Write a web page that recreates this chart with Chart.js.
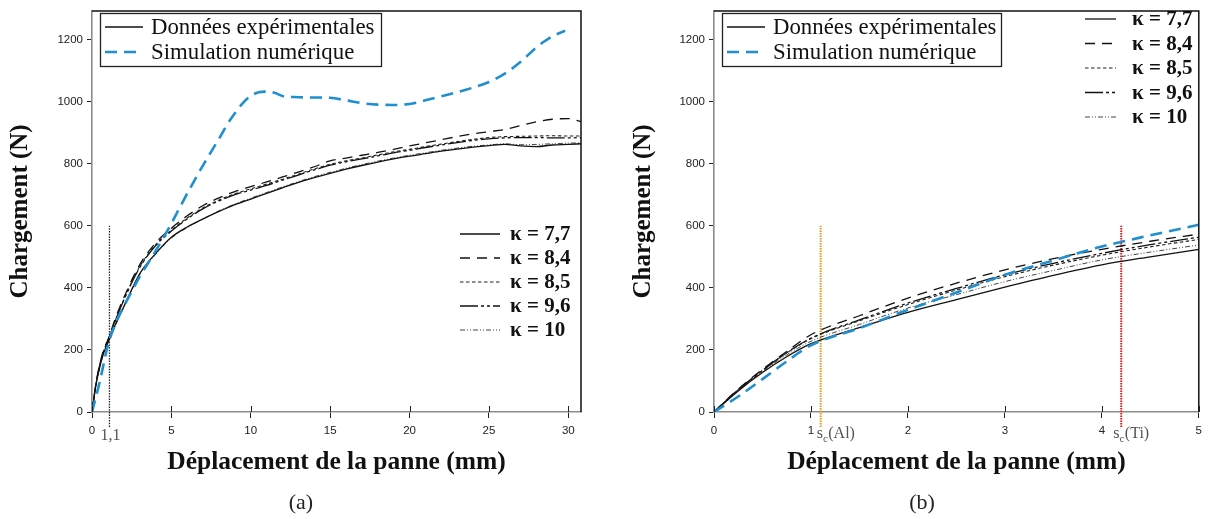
<!DOCTYPE html>
<html><head><meta charset="utf-8">
<script src="https://cdn.jsdelivr.net/npm/chart.js@4.4.1/dist/chart.umd.min.js"></script>
<style>
html,body{margin:0;padding:0;background:#fff;}
body{width:1208px;height:519px;overflow:hidden;position:relative;}
.wrap{position:absolute;top:0;width:604px;height:519px;}
.cap{position:absolute;top:489px;width:60px;text-align:center;font:22px "Liberation Serif",serif;color:#222;}
</style></head>
<body>
<div class="wrap" style="left:0"><canvas id="ca" width="604" height="519"></canvas></div>
<div class="wrap" style="left:604px"><canvas id="cb" width="604" height="519"></canvas></div>
<div class="cap" style="left:271px">(a)</div>
<div class="cap" style="left:892px">(b)</div>
<script>
// ---------- data ----------
const yTicks = [0, 200, 400, 600, 800, 1000, 1200];
const xTicksA = [0, 5, 10, 15, 20, 25, 30];
const xTicksB = [0, 1, 2, 3, 4, 5];
const kappas = ['7,7', '8,4', '8,5', '9,6', '10'];
const legendLabels = ['Données expérimentales', 'Simulation numérique'];

// (a) experimental curves
const xExpA = [0,0.25,0.5,0.75,1,1.5,2,3,4,5,6,7,8,9,10,11,12,13,14,15,16,17,18,19,20,21,22,23,24,25,26,27,28,29,30,30.8];
const k77A = [0,88,148,192,222,285,339,445,510,563,596,622,646,668,686,704,722,740,755,769,782,794,805,815,824,832,840,847,853,858,862,857,855,860,862,864];
const k84A = [0,92,157,203,233,305,368,474,544,592,632,665,690,710,726,741,757,773,790,809,818,827,836,846,857,867,877,887,896,903,910,923,935,943,945,935];
const k85A = [0,90,154,199,229,300,362,468,538,586,625,658,683,703,719,734,750,766,783,798,809,818,828,838,846,855,863,871,878,884,887,888,889,890,889,889];
const k96A = [0,90,153,198,228,298,360,465,535,583,622,655,680,700,715,730,747,763,780,795,806,815,825,835,843,852,860,868,875,880,883,884,884,883,883,884];
const k10A = [0,86,146,190,220,282,336,442,507,560,594,622,648,670,689,707,725,742,758,772,785,797,808,818,827,835,843,850,856,860,864,861,862,864,866,867];
// (a) simulation
const xSimA = [0,0.5,1,1.5,2,3,4,5,5.5,6,6.5,7,7.5,8,8.5,9,9.5,10,10.5,11,11.5,12,13,14,15,16,17,18,19,20,21,22,23,24,25,26,27,28,29,29.8];
const simA = [0,100,215,287,340,435,518,607,656,704,750,795,838,880,925,962,995,1018,1030,1032,1028,1018,1014,1013,1012,1004,995,990,989,992,1004,1017,1030,1045,1063,1090,1128,1175,1210,1228];

// (b)
const xB = [0,0.25,0.5,0.75,1,1.5,2,2.5,3,3.5,4,4.5,5];
const simB = [0,50,106,163,215,270,329,385,442,488,533,569,603];
const k77B = [0,68,127,178,220,272,321,362,402,440,474,500,524];
const k84B = [0,74,137,195,249,310,367,415,458,494,524,550,573];
const k85B = [0,72,134,190,236,294,346,393,436,473,505,532,556];
const k96B = [0,72,134,191,238,297,351,398,442,479,511,539,563];
const k10B = [0,70,130,184,228,282,335,378,420,456,490,515,538];

// vertical markers
const markerA = [1.1];
const markerLabelA = ['1,1'];
const markersB = [1.1, 4.2];
const markerLabelsB = ['Al', 'Ti'];
const markerRange = [-48, 600];

// ---------- helpers ----------
const pts = (xs, ys) => xs.map((x, i) => ({x, y: ys[i]}));
const SERIF = '"Liberation Serif", "DejaVu Serif", serif';
const SANS = '"Liberation Sans", Arial, sans-serif';

const styles = [
  {borderColor:'#111', borderWidth:1.3, borderDash:[]},
  {borderColor:'#111', borderWidth:1.3, borderDash:[10,7]},
  {borderColor:'#222', borderWidth:1.1, borderDash:[3.5,2.5]},
  {borderColor:'#111', borderWidth:1.3, borderDash:[18,3,3,3,3,3]},
  {borderColor:'#444', borderWidth:1.0, borderDash:[5,2,1,2,1,2]}
];
const simStyle = {borderColor:'#1f8fcf', borderWidth:2.6, borderDash:[12,7]};
const expStyle = {borderColor:'#111', borderWidth:1.3, borderDash:[]};

function lineDs(label, data, st, extra) {
  return Object.assign({label, data, borderColor: st.borderColor, borderWidth: st.borderWidth,
    borderDash: st.borderDash, pointRadius: 0, fill: false, cubicInterpolationMode: 'monotone'}, extra || {});
}

function sample(ctx, st, x0, x1, y) {
  ctx.save(); ctx.beginPath(); ctx.strokeStyle = st.borderColor; ctx.lineWidth = st.borderWidth;
  ctx.setLineDash(st.borderDash || []); ctx.moveTo(x0, y); ctx.lineTo(x1, y); ctx.stroke(); ctx.restore();
}

const decoPlugin = {
  id: 'deco',
  afterDraw(chart, args, o) {
    const ctx = chart.ctx, a = chart.chartArea, xs = chart.scales.x;
    ctx.save();
    // top & right frame
    ctx.strokeStyle = '#111'; ctx.lineWidth = 1.5; ctx.setLineDash([]);
    ctx.beginPath(); ctx.moveTo(a.left, a.top); ctx.lineTo(a.right, a.top); ctx.lineTo(a.right, a.bottom); ctx.stroke();
    // upward part of x ticks
    ctx.strokeStyle = '#222'; ctx.lineWidth = 1;
    xs.ticks.forEach(t => { const px = Math.round(xs.getPixelForValue(t.value)) + 0.5;
      ctx.beginPath(); ctx.moveTo(px, a.bottom); ctx.lineTo(px, a.bottom - 6); ctx.stroke(); });
    // legend box
    const b = o.box;
    ctx.fillStyle = '#fff'; ctx.fillRect(b.x, b.y, b.w, b.h);
    ctx.strokeStyle = '#222'; ctx.lineWidth = 1.3; ctx.strokeRect(b.x + 0.5, b.y + 0.5, b.w, b.h);
    ctx.font = '22.8px ' + SERIF; ctx.fillStyle = '#111'; ctx.textBaseline = 'middle'; ctx.textAlign = 'left';
    [expStyle, simStyle].forEach((st, i) => {
      const y = b.y + 14 + i * 25;
      sample(ctx, st, b.x + 5, b.x + 43, y);
      ctx.fillText(legendLabels[i], b.x + 51, y + 1);
    });
    // kappa legend
    const k = o.kappa;
    ctx.font = 'bold 21px ' + SERIF;
    kappas.forEach((kv, i) => {
      const y = k.y0 + i * k.dy;
      sample(ctx, styles[i], k.s0, k.s1, y);
      ctx.fillText('κ = ' + kv, k.tx, y + 1);
    });
    // marker labels
    ctx.fillStyle = '#555'; ctx.textBaseline = 'middle';
    o.markers.forEach((m, i) => {
      const px = xs.getPixelForValue(m);
      const lab = o.mlabels[i];
      if (o.sc) {
        let x = px - o.sc[i];
        ctx.font = '16px ' + SERIF; ctx.textAlign = 'left';
        ctx.fillText('s', x, 434); x += ctx.measureText('s').width;
        ctx.font = '11px ' + SERIF; ctx.fillText('c', x, 439); x += ctx.measureText('c').width + 0.5;
        ctx.font = '16px ' + SERIF; ctx.fillText('(' + lab + ')', x, 434);
      } else {
        ctx.font = '16px ' + SERIF; ctx.textAlign = 'center';
        ctx.fillText(lab, px + 1, 436);
      }
    });
    ctx.restore();
  }
};

function makeChart(id, cfg) {
  return new Chart(document.getElementById(id), {
    type: 'line',
    data: {datasets: cfg.datasets},
    options: {
      responsive: false, animation: false, devicePixelRatio: 1,
      layout: {padding: {top: 8, right: cfg.padRight, left: 0, bottom: 0}},
      plugins: {legend: {display: false}, tooltip: {enabled: false}, deco: cfg.deco},
      scales: {
        x: {
          type: 'linear', min: 0, max: cfg.xMax,
          afterBuildTicks: s => { s.ticks = cfg.xTicks.map(v => ({value: v})); },
          afterFit: s => { s.height = 107; },
          grid: {drawOnChartArea: false, drawTicks: true, tickLength: 6, tickColor: '#222', tickWidth: 1},
          border: {display: true, color: '#8c8c8c', width: 1.6},
          ticks: {font: {family: SANS, size: 11.5}, color: '#222', padding: 6, maxRotation: 0,
                  callback: v => String(v)},
          title: {display: true, text: 'Déplacement de la panne (mm)', color: '#111',
                  font: {family: SERIF, size: 25.5, weight: 'bold'}, padding: {top: 0, bottom: 41}}
        },
        y: {
          type: 'linear', min: 0, max: 1292,
          afterBuildTicks: s => { s.ticks = yTicks.map(v => ({value: v})); },
          afterFit: s => { s.width = cfg.yWidth; },
          grid: {drawOnChartArea: false, drawTicks: true, tickLength: 5, tickColor: '#222', tickWidth: 1},
          border: {display: true, color: '#8c8c8c', width: 1.6},
          ticks: {font: {family: SANS, size: 11.5}, color: '#222', padding: 4, callback: v => String(v)},
          title: {display: true, text: 'Chargement (N)', color: '#111',
                  font: {family: SERIF, size: 25, weight: 'bold'}, padding: {top: cfg.yTitlePad, bottom: 0}}
        }
      }
    },
    plugins: [decoPlugin]
  });
}

const expA = [k77A, k84A, k85A, k96A, k10A];
const expB = [k77B, k84B, k85B, k96B, k10B];

makeChart('ca', {
  xMax: 30.8, xTicks: xTicksA, padRight: 23, yWidth: 92, yTitlePad: 6,
  datasets: [
    lineDs('Simulation numérique', pts(xSimA, simA), simStyle),
    ...expA.map((d, i) => lineDs('κ = ' + kappas[i], pts(xExpA, d), styles[i])),
    ...markerA.map(m => lineDs('marker', markerRange.map(y => ({x: m, y})),
      {borderColor: '#222', borderWidth: 1.3, borderDash: [1.5, 1.2]}, {clip: false, cubicInterpolationMode: 'default'}))
  ],
  deco: {box: {x: 100, y: 13, w: 281, h: 53},
         kappa: {s0: 460, s1: 500, tx: 510, y0: 234, dy: 24},
         markers: markerA, mlabels: markerLabelA}
});

const markerColors = ['#e39a1c', '#d41e1e'];
makeChart('cb', {
  xMax: 5, xTicks: xTicksB, padRight: 7, yWidth: 110, yTitlePad: 25,
  datasets: [
    lineDs('Simulation numérique', pts(xB, simB), simStyle),
    ...expB.map((d, i) => lineDs('κ = ' + kappas[i], pts(xB, d), styles[i])),
    ...markersB.map((m, i) => lineDs('marker', markerRange.map(y => ({x: m, y})),
      {borderColor: markerColors[i], borderWidth: 2, borderDash: [1.5, 1]}, {clip: false, cubicInterpolationMode: 'default'}))
  ],
  deco: {box: {x: 118, y: 13, w: 279, h: 53},
         kappa: {s0: 481, s1: 512, tx: 528, y0: 19, dy: 24.5},
         markers: markersB, mlabels: markerLabelsB, sc: [4, 8]}
});
</script>
</body></html>
